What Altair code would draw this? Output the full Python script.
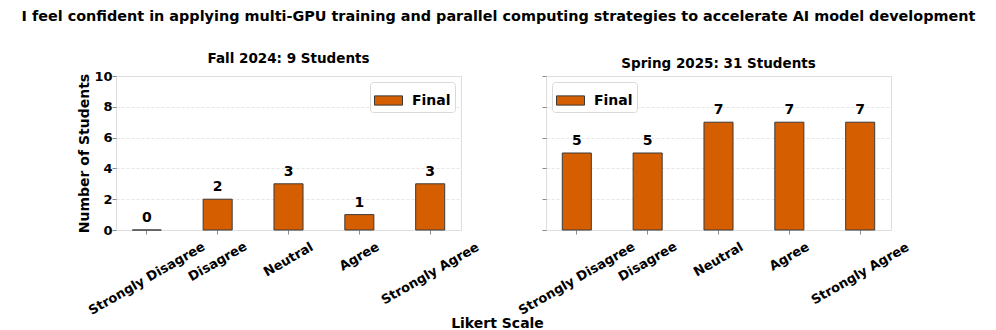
import altair as alt
import pandas as pd

categories = ["Strongly Disagree", "Disagree", "Neutral", "Agree", "Strongly Agree"]
fall_counts = [0, 2, 3, 1, 3]
spring_counts = [5, 5, 7, 7, 7]
series_name = "Final"
main_title = ("I feel confident in applying multi-GPU training and parallel computing "
              "strategies to accelerate AI model development")
fall_title = "Fall 2024: 9 Students"
spring_title = "Spring 2025: 31 Students"
y_ticks = [0, 2, 4, 6, 8, 10]

FONT = "DejaVu Sans"
BAR = "#D55E00"
EDGE = "#3b3b3b"
FRAME = "#8a8a8a"

# per-label padding so rotated labels hang from the same top line (matplotlib style)
label_pad = {"Strongly Disagree": 39, "Disagree": 22, "Neutral": 20, "Agree": 17, "Strongly Agree": 34}
pad_cond = {
    "condition": [{"test": f"datum.value === '{k}'", "value": v} for k, v in label_pad.items()],
    "value": 20,
}


def panel(counts, title, legend_orient, show_y, show_xtitle):
    df = pd.DataFrame({"cat": categories, "n": counts, "series": [series_name] * len(categories)})
    xaxis_kwargs = dict(
        labelAngle=330, labelAlign="center", labelBaseline="top", labelFontSize=13,
        labelFontWeight="bold", labelFont=FONT, labelColor="black", labelPadding=pad_cond,
        labelOffset=-3, labelOverlap=False, labelBound=False, tickSize=4, tickColor=FRAME,
        domain=False, grid=False,
    )
    if show_xtitle:
        xaxis_kwargs.update(title="Likert Scale", titleX=381, titleY=97, titleBaseline="alphabetic",
                            titleAlign="center", titleFontSize=14, titleFont=FONT,
                            titleFontWeight="bold", titleColor="black")
    else:
        xaxis_kwargs.update(title=None)
    x = alt.X("cat:N", sort=categories,
              scale=alt.Scale(paddingInner=0.59, paddingOuter=0.23),
              axis=alt.Axis(**xaxis_kwargs))
    yaxis_kwargs = dict(values=y_ticks, tickSize=4, tickColor=FRAME, domain=False,
                        grid=True, gridColor="#dedede", gridDash=[3, 2], gridWidth=0.8,
                        labelOverlap=False)
    if show_y:
        yaxis_kwargs.update(title="Number of Students", labelFontSize=13, labelFontWeight="bold",
                            labelFont=FONT, labelColor="black", labelPadding=0,
                            titleFontSize=14, titleFont=FONT, titleFontWeight="bold",
                            titleColor="black", titlePadding=2)
    else:
        yaxis_kwargs.update(title=None, labels=False)
    y = alt.Y("n:Q", scale=alt.Scale(domain=[0, 10], nice=False), axis=alt.Axis(**yaxis_kwargs))
    color = alt.Color(
        "series:N",
        scale=alt.Scale(domain=[series_name], range=[BAR]),
        legend=alt.Legend(
            title=None, orient=legend_orient, offset=6, padding=4, cornerRadius=3,
            strokeColor="#d9d9d9", fillColor="white",
            symbolType="M-1,-0.33H1V0.33H-1Z", symbolSize=784,
            symbolStrokeColor=EDGE, symbolStrokeWidth=1, symbolOpacity=1,
            labelFontSize=14, labelFontWeight="bold", labelFont=FONT, labelColor="black",
            labelOffset=9,
        ),
    )
    bars = alt.Chart(df).mark_bar(stroke=EDGE, strokeWidth=1, opacity=1).encode(x=x, y=y, color=color)
    text = alt.Chart(df).mark_text(baseline="bottom", dy=-5, fontSize=14, fontWeight="bold",
                                   font=FONT, color="black").encode(x=x, y=y, text="n:Q")
    return alt.layer(bars, text).properties(
        width=345, height=154,
        title=alt.TitleParams(title, fontSize=13.5, font=FONT, fontWeight="bold",
                              color="black", offset=5),
    )


left = panel(fall_counts, fall_title, "top-right", True, True)
right = panel(spring_counts, spring_title, "top-left", False, False)

chart = (
    alt.hconcat(left, right, spacing=85, bounds="flush")
    .resolve_scale(color="independent")
    .resolve_legend(color="independent")
    .properties(
        title=alt.TitleParams(main_title, fontSize=14.4, font=FONT, fontWeight="bold",
                              color="black", anchor="middle", offset=27, dx=4),
        padding={"left": 13, "top": 0, "right": 0, "bottom": 0},
    )
    .configure_view(stroke=FRAME, strokeWidth=1)
    .configure(background="white")
)

chart.save("out.html", embed_options={"renderer": "svg", "actions": False})
